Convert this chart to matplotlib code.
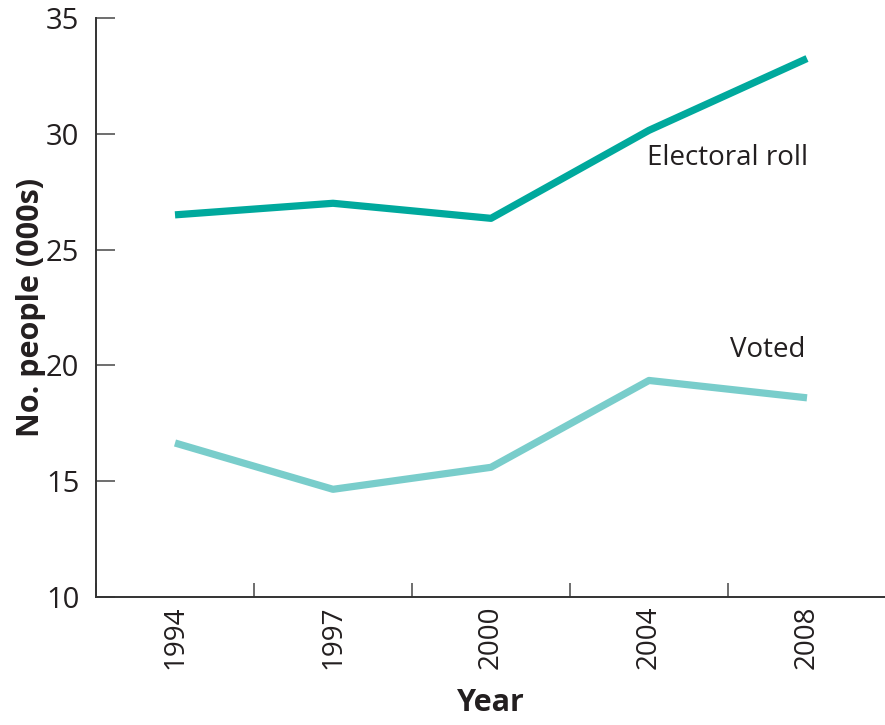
import numpy as np
import matplotlib.pyplot as plt

# Данные
years = ["1994", "1997", "2000", "2004", "2008"]
electoral_roll = [26.5, 27.0, 26.35, 30.15, 33.25]
voted = [16.65, 14.65, 15.6, 19.35, 18.6]

plt.rcParams['font.family'] = ['Open Sans', 'DejaVu Sans']

fig = plt.figure(figsize=(8.85, 7.25), dpi=100)
ax = fig.add_axes([96 / 885, 128 / 725, 790 / 885, 579 / 725])

x = np.arange(len(years))
ax.plot(x, electoral_roll, color='#00a99d', lw=5.2, solid_capstyle='butt')
ax.plot(x, voted, color='#79cdcb', lw=5.2, solid_capstyle='butt')

ax.text(4.01, 28.95, "Electoral roll", ha='right', va='center', fontsize=20, color='#231f20')
ax.text(3.99, 20.66, "Voted", ha='right', va='center', fontsize=20, color='#231f20')

ax.set_xlim(-0.5, 4.5)
ax.set_ylim(10, 35)
ax.set_yticks(np.arange(10, 36, 5))
ax.set_xticks(x)
ax.set_xticklabels(years, rotation=90)
ax.set_xticks(np.arange(-0.5, 4.6, 1), minor=True)

ax.tick_params(axis='y', direction='in', length=14, width=1.2, color='#555555',
               labelsize=21, pad=12, labelcolor='#231f20')
ax.tick_params(axis='x', which='major', length=0, labelsize=20, pad=6, labelcolor='#231f20')
ax.tick_params(axis='x', which='minor', direction='in', length=10, width=1.2, color='#555555')

for s in ['top', 'right']:
    ax.spines[s].set_visible(False)
for s in ['left', 'bottom']:
    ax.spines[s].set_linewidth(1.4)
    ax.spines[s].set_color('#333333')

ax.set_xlabel("Year", fontsize=22, fontweight='bold', color='#231f20', labelpad=14)
ax.set_ylabel("No. people (000s)", fontsize=22, fontweight='bold', color='#231f20', labelpad=0)

fig.savefig("out.png", dpi=100)
